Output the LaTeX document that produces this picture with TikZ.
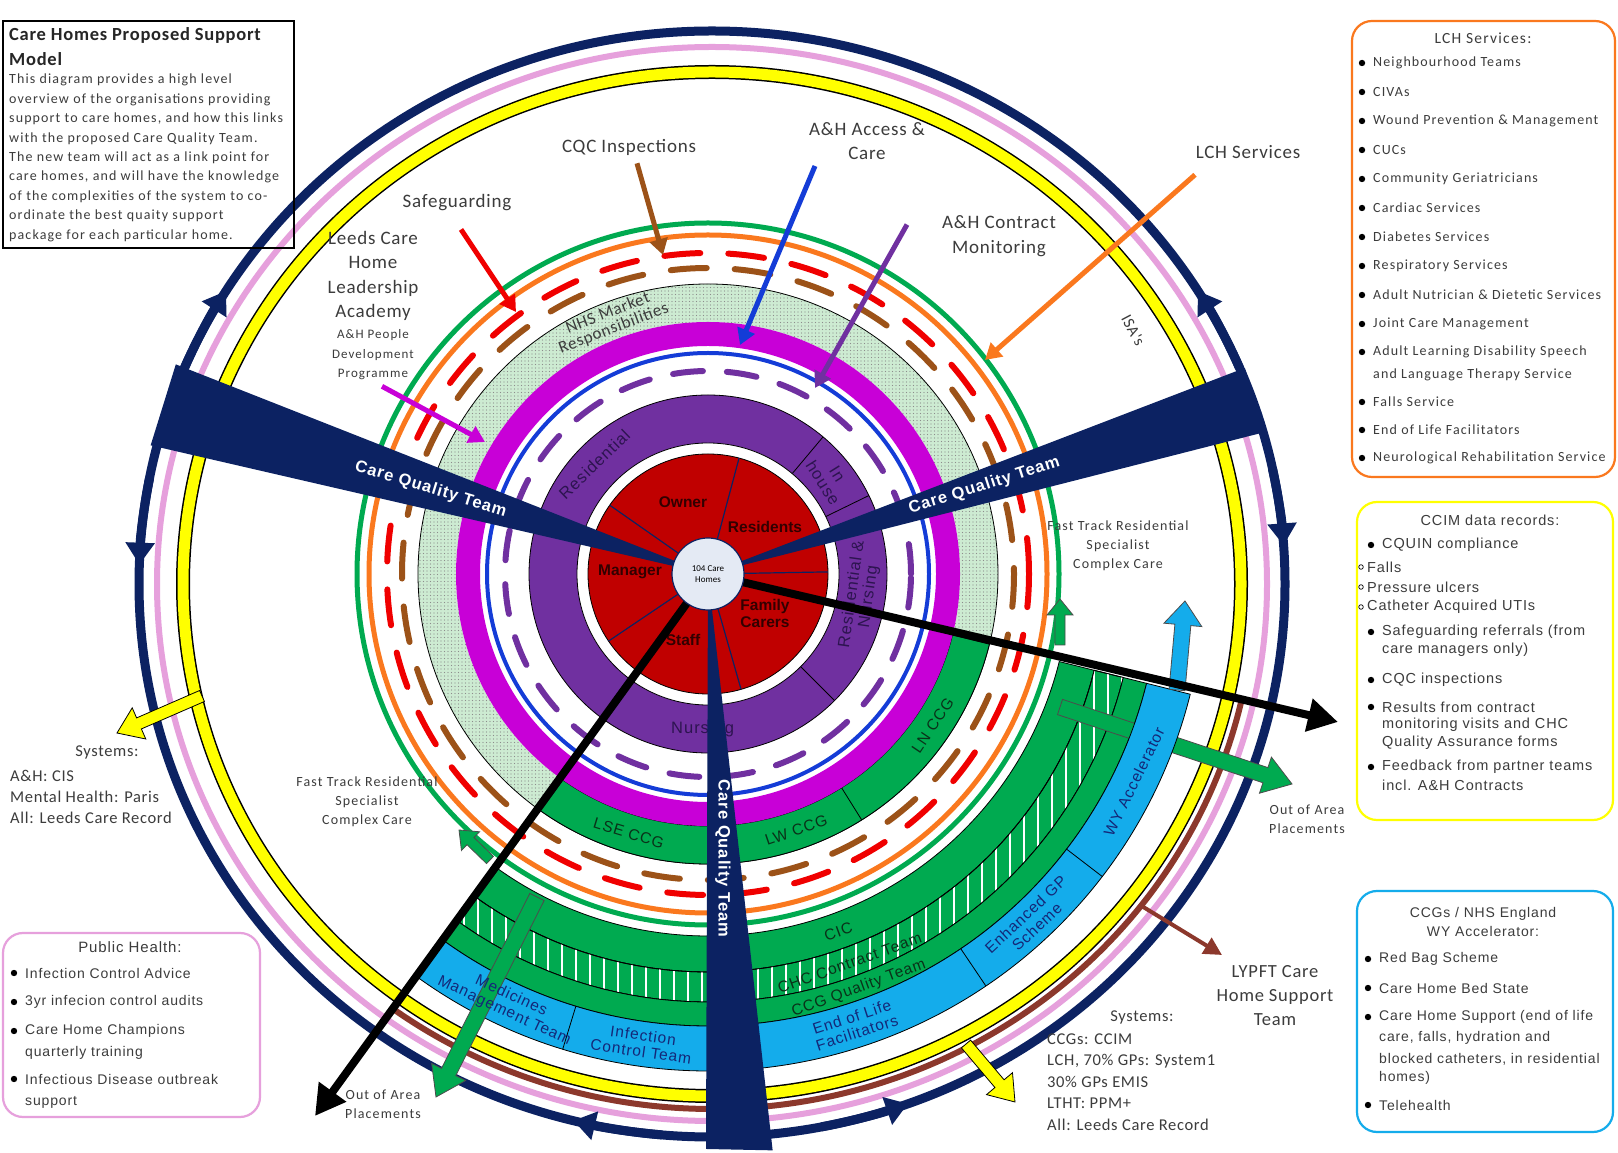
\documentclass[tikz,border=0pt]{standalone}
\usepackage{fontspec}
\setmainfont{Carlito}
\newfontfamily\arialf{Liberation Sans}
\newfontfamily\calw[LetterSpace=8]{Carlito}
\newfontfamily\calm[LetterSpace=4]{Carlito}
\newfontfamily\arialw[LetterSpace=6]{Liberation Sans}
\usetikzlibrary{arrows.meta,calc,patterns.meta}
\definecolor{navyc}{RGB}{12,34,98}
\definecolor{pinkc}{RGB}{230,160,220}
\definecolor{yellowc}{RGB}{255,255,0}
\definecolor{brownr}{RGB}{140,56,44}
\definecolor{brownd}{RGB}{156,82,24}
\definecolor{greenc}{RGB}{0,170,80}
\definecolor{orangec}{RGB}{250,120,30}
\definecolor{redc}{RGB}{240,0,0}
\definecolor{dotg}{RGB}{205,235,210}
\definecolor{magc}{RGB}{200,0,215}
\definecolor{bluec}{RGB}{20,60,215}
\definecolor{purc}{RGB}{112,48,160}
\definecolor{diskred}{RGB}{192,0,0}
\definecolor{cyanc}{RGB}{20,172,235}
\definecolor{txtg}{RGB}{60,60,60}
\definecolor{ctrc}{RGB}{228,234,244}
\definecolor{disktx}{RGB}{50,0,0}
\definecolor{purtx}{RGB}{45,20,80}
\definecolor{greentx}{RGB}{10,50,25}
\definecolor{bluetx}{RGB}{20,40,120}
\newcommand\fsz[2]{\fontsize{#1}{#2}\selectfont}
\newcommand\annsec[5]{\path[#1] (#2:#4) arc[start angle=#2,end angle=#3,radius=#4] -- (#3:#5) arc[start angle=#3,end angle=#2,radius=#5] -- cycle;}
\newcommand\blockarr[6]{%
  \coordinate (bah) at ($(#3)!#6!(#2)$);
  \path[#1] ($(#2)!#4!90:(#3)$) -- ($(bah)!#4!90:(#3)$) -- ($(bah)!#5!90:(#3)$) -- (#3) -- ($(bah)!#5!-90:(#3)$) -- ($(bah)!#4!-90:(#3)$) -- ($(#2)!#4!-90:(#3)$) -- cycle;}
\newcommand\bitem[4]{\fill (#1-11,#2) circle[radius=3.2]; \node[anchor=west,inner sep=0] (#3) at (#1,#2) {#4};}
\newcommand\citem[4]{\draw[line width=0.7] (#1-6,#2) circle[radius=2.3]; \node[anchor=west,inner sep=0] (#3) at (#1,#2) {#4};}
\begin{document}
\begin{tikzpicture}[x=1pt,y=1pt,
  lbl/.style={text=txtg,align=center,inner sep=0,font=\calm\fsz{19}{24.5}},
  sml/.style={text=txtg,align=center,inner sep=0,font=\calw\fsz{14}{19}},
  bandtxt/.style={inner sep=0,align=center,font=\arialw\fsz{15.5}{16.5}},
  cqt/.style={inner sep=0,text=white,font=\arialw\bfseries\fsz{16.5}{18}},
  disktxt/.style={inner sep=0,align=center,text=disktx,font=\arialf\bfseries\fsz{15.5}{17}},
  purtxt/.style={inner sep=0,align=center,text=purtx,font=\arialw\fsz{16.5}{17}},
  pointer/.style={line width=5,-{Triangle[width=18pt,length=16pt]}},
  ringline/.style={draw=black,line width=0.8},
  blk/.style={draw=black!70,line width=0.8},
]
\useasboundingbox (0,0) rectangle (1618,1152);
\fill[white] (0,0) rectangle (1618,1152);

% ---------- outer rings ----------
\begin{scope}[shift={(712,568)}]
 \draw[navyc,line width=9] (0,0) ellipse[x radius=573,y radius=553];
 \draw[pinkc,line width=6] (0,0) ellipse[x radius=555,y radius=537];
 \draw[brownr,line width=6] (-126:543 and 525) arc[start angle=-126,end angle=-13,x radius=543,y radius=525];
 \draw[black,line width=14] (0,0) ellipse[x radius=529,y radius=512];
 \draw[yellowc,line width=11] (0,0) ellipse[x radius=529,y radius=512];
 \foreach \sa/\ea in {157/148,169/178,23/32,12/4,-95/-104,-79/-70}
   \draw[navyc,line width=9,-{Triangle[width=28pt,length=22pt]}] (\sa:573 and 553) arc[start angle=\sa,end angle=\ea,x radius=573,y radius=553];
\end{scope}

% ---------- inner rings ----------
\begin{scope}[shift={(708,578)}]
 \draw[greenc,line width=5] (0,0) circle[radius=351];
 \draw[orangec,line width=5] (0,0) circle[radius=339];
 \draw[redc,line width=6,line cap=round,dash pattern=on 36pt off 28pt] (0,0) circle[radius=321];
 \draw[brownd,line width=6,line cap=round,dash pattern=on 36pt off 28pt,dash phase=30pt] (0,0) circle[radius=306];
 \fill[dotg,even odd rule] (0,0) circle[radius=290] (0,0) circle[radius=252];
 \fill[pattern={Dots[distance=3.5pt,radius=0.6pt]},pattern color=black!45,even odd rule] (0,0) circle[radius=290] (0,0) circle[radius=252];
 \draw[black,line width=0.8] (0,0) circle[radius=290];
 \annsec{fill=greenc,ringline}{-126}{-14}{252}{290}
 \draw[ringline] (-58:252) -- (-58:290);
 \draw[magc,line width=24] (0,0) circle[radius=240];
 \draw[bluec,line width=4] (0,0) circle[radius=221];
 \draw[purc,line width=6,line cap=round,dash pattern=on 30pt off 24pt] (0,0) circle[radius=203];
 \fill[purc] (0,0) circle[radius=179];
 \draw[black,line width=0.8] (0,0) circle[radius=179];
 \foreach \a in {50,26,-45} \draw[black,line width=0.8] (\a:131) -- (\a:179);
 \fill[white] (0,0) circle[radius=131];
 \draw[black,line width=0.8] (0,0) circle[radius=131];
 \fill[diskred] (0,0) circle[radius=120];
 \draw[black,line width=0.8] (0,0) circle[radius=120];
 \foreach \a in {75,145,1,-146,-74} \draw[navyc,line width=1.2] (\a:36) -- (\a:120);
 % labels in rings
 \node[purtxt,rotate=44] (pRes) at (136:158) {Residential};
 \node[purtxt,rotate=-58] (pIn) at (38:155) {In\\house};
 \node[purtxt,rotate=82] (pRN) at (-8:154) {Residential \&\\Nursing};
 \node[purtxt] (pNur) at (-92:155) {Nursing};
 \node[bandtxt,text=greentx,rotate=-17] (lse) at (-107:271) {LSE CCG};
 \node[bandtxt,text=greentx,rotate=19] (lw) at (-71:271) {LW CCG};
 \node[bandtxt,text=greentx,rotate=56] (ln) at (-34:271) {LN CCG};
 \node[inner sep=0,align=center,text=txtg,font=\calm\fsz{17}{16},rotate=21] (nhs) at (111:271) {NHS Market\\Responsibilities};
 \node[inner sep=0,text=txtg,font=\calm\fsz{16}{16},rotate=-62] (isa) at (29.8:490) {ISA's};
 % bottom green bands
 \annsec{fill=greenc,ringline}{-126}{-14}{362}{398}
 \annsec{fill=greenc,ringline}{-126}{-14}{398}{428}
 \begin{scope}
  \clip (-126:398) arc[start angle=-126,end angle=-14,radius=398] -- (-14:428) arc[start angle=-14,end angle=-126,radius=428] -- cycle;
  \foreach \xx in {-300,-286,...,500} \draw[white,line width=1.3] (\xx,-520) -- (\xx,-50);
 \end{scope}
 \annsec{ringline}{-126}{-14}{398}{428}
 \annsec{fill=greenc,ringline}{-126}{-14}{428}{452}
\end{scope}

% right green arrow (passes under the blue band)
\coordinate (gOR1) at (1060,445); \coordinate (gOR2) at (1292,368);
\blockarr{fill=greenc,blk}{gOR1}{gOR2}{8pt}{19pt}{28pt}

\begin{scope}[shift={(708,578)}]
 \annsec{fill=cyanc,ringline}{-126}{-14}{452}{497}
 \foreach \a in {-107,-56,-37.5} \draw[ringline] (\a:452) -- (\a:497);
\end{scope}

% ---------- other coloured block arrows ----------
\coordinate (gOL1) at (537,255); \coordinate (gOL2) at (436,55);
\blockarr{fill=greenc,blk}{gOL1}{gOL2}{8pt}{19pt}{28pt}
\coordinate (gR1) at (1060,507); \coordinate (gR2) at (1060,553);
\blockarr{fill=greenc,blk}{gR1}{gR2}{5pt}{13pt}{16pt}
\coordinate (gL1) at (490,292); \coordinate (gL2) at (459,322);
\blockarr{fill=greenc,blk}{gL1}{gL2}{5pt}{13pt}{16pt}
\coordinate (cy1) at (1177,462); \coordinate (cy2) at (1185,551);
\blockarr{fill=cyanc,blk}{cy1}{cy2}{8pt}{19pt}{24pt}
\coordinate (yL1) at (202,456); \coordinate (yL2) at (117,419);
\blockarr{fill=yellowc,draw=black,line width=0.8}{yL1}{yL2}{6pt}{17pt}{24pt}
\coordinate (yR1) at (966,108); \coordinate (yR2) at (1015,50);
\blockarr{fill=yellowc,draw=black,line width=0.8}{yR1}{yR2}{6pt}{17pt}{24pt}
\coordinate (lyS) at (1140,247); \coordinate (lyT) at (1222,197);
\draw[brownr,line width=4,-{Triangle[width=18pt,length=18pt]}] (lyS) -- (lyT);

% ---------- band labels ----------
\begin{scope}[shift={(708,578)}]
 \node[bandtxt,text=greentx,rotate=20] (cic) at (-70:381) {CIC};
 \node[bandtxt,text=greentx,rotate=20] (chc) at (-70:414) {CHC Contract Team};
 \node[bandtxt,text=greentx,rotate=20] (ccgq) at (-70:441) {CCG Quality Team};
 \node[bandtxt,text=bluetx,rotate=18] (eol) at (-72:474) {End of Life\\Facilitators};
 \node[bandtxt,text=bluetx,rotate=43] (egp) at (-47:474) {Enhanced GP\\Scheme};
 \node[bandtxt,text=bluetx,rotate=64] (wya) at (-26:474) {WY Accelerator};
 \node[bandtxt,text=bluetx,rotate=-25] (mmt) at (-115:474) {Medicines\\Management Team};
 \node[bandtxt,text=bluetx,rotate=-8] (ict) at (-98:474) {Infection\\Control Team};
\end{scope}

% red disk labels
\node[disktxt] (own) at (683,650) {Owner};
\node[disktxt] (res) at (765,625) {Residents};
\node[disktxt] (man) at (630,580) {Manager};
\node[disktxt] (fam) at (765,539) {Family\\Carers};
\node[disktxt] (stf) at (683,512) {Staff};

% ---------- wedges ----------
\begin{scope}[shift={(708,578)}]
 \fill[navyc] (0,0) -- (158.5:572) -- (167:572) -- cycle;
 \fill[navyc] (0,0) -- (14.3:575) -- (21:575) -- cycle;
 \fill[navyc] (0,0) -- (-90.2:575) -- (-83.6:580) -- cycle;
 \node[cqt,rotate=-17] (cqtL) at (163:290) {Care Quality Team};
 \node[cqt,rotate=17.7] (cqtR) at (17.7:290) {Care Quality Team};
 \node[cqt,rotate=-90] (cqtB) at (-87:285) {Care Quality Team};
\end{scope}

% ---------- black arrows and centre ----------
\coordinate (ctr) at (708,578);
\coordinate (oaR) at (1338,430);
\coordinate (oaL) at (315,36);
\draw[line width=8,-{Triangle[width=32pt,length=30pt]}] (ctr) -- (oaR);
\draw[line width=8,-{Triangle[width=32pt,length=30pt]}] (ctr) -- (oaL);
\fill[ctrc] (ctr) circle[radius=36];
\draw[navyc,line width=1.2] (ctr) circle[radius=36];
\node[inner sep=0,align=center,font=\fsz{9}{11}] (hub) at (ctr) {104 Care\\Homes};

% ---------- labels with pointers ----------
\node[lbl] (cqc) at (629,1005) {CQC Inspections};
\coordinate (cqcT) at (663,897);
\draw[brownd,pointer] ([xshift=8pt,yshift=-8pt]cqc.south) -- (cqcT);
\node[lbl] (sg) at (457,949) {Safeguarding};
\coordinate (sgT) at (516,840);
\draw[redc,pointer] ([xshift=4pt,yshift=-18pt]sg.south) -- (sgT);
\node[lbl] (ahac) at (867,1011) {A\&H Access \&\\Care};
\coordinate (ahacT) at (740,807);
\draw[bluec,pointer] ([xshift=-52pt,yshift=-6pt]ahac.south) -- (ahacT);
\node[lbl] (ahcm) at (999,916) {A\&H Contract\\Monitoring};
\coordinate (ahcmT) at (815,764);
\draw[purc,pointer] ([xshift=-92pt,yshift=32pt]ahcm.south) -- (ahcmT);
\node[lbl] (lchl) at (1248,1000) {LCH Services};
\coordinate (lchT) at (985,792);
\draw[orangec,pointer] ([xshift=-53pt,yshift=-16pt]lchl.south) -- (lchT);
\node[lbl] (lcha) at (373,876) {Leeds Care\\Home\\Leadership\\Academy};
\node[sml,font=\calw\fsz{13}{19.5}] (ahpd) at (373,797) {A\&H People\\Development\\Programme};
\coordinate (magT) at (485,710);
\draw[magc,pointer] ([xshift=9pt,yshift=-6pt]ahpd.south) -- (magT);

\node[sml] (ftL) at (367,350) {Fast Track Residential\\Specialist\\Complex Care};
\node[sml] (ftR) at (1118,606) {Fast Track Residential\\Specialist\\Complex Care};
\node[sml] (ooaL) at (383,48) {Out of Area\\Placements};
\node[sml] (ooaR) at (1307,333) {Out of Area\\Placements};
\node[lbl,font=\calm\fsz{18.5}{24}] (lypft) at (1275,156) {LYPFT Care\\Home Support\\Team};

\node[inner sep=0,text=txtg,font=\calm\fsz{16.5}{21}] (sysL) at (107,400) {Systems:};
\node[anchor=west,inner sep=0,align=left,text=txtg,font=\calm\fsz{16.5}{21}] (sysLt) at (10,355) {A\&H: CIS\\Mental Health: Paris\\All: Leeds Care Record};
\node[inner sep=0,text=txtg,font=\calm\fsz{16.5}{21.5}] (sysR) at (1142,135) {Systems:};
\node[anchor=west,inner sep=0,align=left,text=txtg,font=\calm\fsz{16.5}{21.5}] (sysRt) at (1047,70) {CCGs: CCIM\\LCH, 70\% GPs: System1\\30\% GPs EMIS\\LTHT: PPM+\\All: Leeds Care Record};

% ---------- top-left box ----------
\draw[black,line width=1.2] (3,1131) rectangle (294,904);
\node[anchor=north west,inner sep=0,align=left,font=\calm\bfseries\fsz{18.5}{25},text=black!85] (ttl) at (9,1125) {Care Homes Proposed Support\\Model};
\node[anchor=north west,inner sep=0,align=left,font=\calw\fsz{14}{19.4},text=txtg] (desc) at (9,1078) {This diagram provides a high level\\overview of the organisations providing\\support to care homes, and how this links\\with the proposed Care Quality Team.\\The new team will act as a link point for\\care homes, and will have the knowledge\\of the complexities of the system to co-\\ordinate the best quaity support\\package for each particular home.};

% ---------- LCH box ----------
\draw[orangec,line width=2.2,rounded corners=20] (1352,1131) rectangle (1615,675);
\begin{scope}[font=\calw\fsz{14}{16},text=txtg]
\node[inner sep=0,font=\calw\fsz{15.5}{16}] (lcht) at (1483,1114) {LCH Services:};
\bitem{1373}{1089}{l1}{Neighbourhood Teams}
\bitem{1373}{1060}{l2}{CIVAs}
\bitem{1373}{1031}{l3}{Wound Prevention \& Management}
\bitem{1373}{1002}{l4}{CUCs}
\bitem{1373}{973}{l5}{Community Geriatricians}
\bitem{1373}{944}{l6}{Cardiac Services}
\bitem{1373}{915}{l7}{Diabetes Services}
\bitem{1373}{886}{l8}{Respiratory Services}
\bitem{1373}{857}{l9}{Adult Nutrician \& Dietetic Services}
\bitem{1373}{828}{l10}{Joint Care Management}
\bitem{1373}{800}{l11}{Adult Learning Disability Speech}
\node[anchor=west,inner sep=0] (l11b) at (1373,777) {and Language Therapy Service};
\bitem{1373}{750}{l12}{Falls Service}
\bitem{1373}{722}{l13}{End of Life Facilitators}
\bitem{1373}{694}{l14}{Neurological Rehabilitation Service}
\end{scope}

% ---------- CCIM box ----------
\draw[yellowc,line width=2.2,rounded corners=20] (1357,650) rectangle (1613,332);
\begin{scope}[font=\arialw\fsz{14.5}{16},text=txtg]
\node[inner sep=0] (ccimt) at (1490,632) {CCIM data records:};
\bitem{1382}{607}{c1}{CQUIN compliance}
\citem{1367}{585}{c2}{Falls}
\citem{1367}{565}{c3}{Pressure ulcers}
\citem{1367}{545}{c4}{Catheter Acquired UTIs}
\bitem{1382}{520}{c5}{Safeguarding referrals (from}
\node[anchor=west,inner sep=0] (c5b) at (1382,502) {care managers only)};
\bitem{1382}{472}{c6}{CQC inspections}
\bitem{1382}{445}{c7}{Results from contract}
\node[anchor=west,inner sep=0] (c7b) at (1382,427) {monitoring visits and CHC};
\node[anchor=west,inner sep=0] (c7c) at (1382,409) {Quality Assurance forms};
\bitem{1382}{385}{c8}{Feedback from partner teams}
\node[anchor=west,inner sep=0] (c8b) at (1382,367) {incl. A\&H Contracts};
\end{scope}

% ---------- CCGs box ----------
\draw[cyanc,line width=2.2,rounded corners=20] (1357,261) rectangle (1613,20);
\begin{scope}[font=\arialw\fsz{14}{16},text=txtg]
\node[inner sep=0,align=center,font=\arialw\fsz{14}{19}] (ccgt) at (1483,230) {CCGs / NHS England\\WY Accelerator:};
\bitem{1379}{193}{n1}{Red Bag Scheme}
\bitem{1379}{164}{n2}{Care Home Bed State}
\bitem{1379}{135}{n3}{Care Home Support (end of life}
\node[anchor=west,inner sep=0] (n3b) at (1379,114) {care, falls, hydration and};
\node[anchor=west,inner sep=0] (n3c) at (1379,93) {blocked catheters, in residential};
\node[anchor=west,inner sep=0] (n3d) at (1379,74) {homes)};
\bitem{1379}{47}{n4}{Telehealth}
\end{scope}

% ---------- Public Health box ----------
\draw[pinkc,line width=2.2,rounded corners=20] (3,219) rectangle (260,35);
\begin{scope}[font=\arialw\fsz{14}{16},text=txtg]
\node[inner sep=0,font=\arialw\fsz{15}{16}] (pht) at (130,205) {Public Health:};
\bitem{25}{179}{p1}{Infection Control Advice}
\bitem{25}{150}{p2}{3yr infecion control audits}
\bitem{25}{121}{p3}{Care Home Champions}
\node[anchor=west,inner sep=0] (p3b) at (25,99) {quarterly training};
\bitem{25}{73}{p4}{Infectious Disease outbreak}
\node[anchor=west,inner sep=0] (p4b) at (25,50) {support};
\end{scope}
\end{tikzpicture}
\end{document}
